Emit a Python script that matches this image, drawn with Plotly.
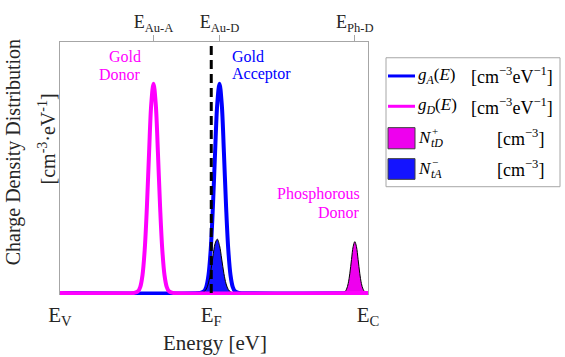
import plotly.graph_objects as go

# ---------------- data (energies in eV, densities normalised) ----------------
E_V = 0.0
E_C = 1.12
E_F = 0.55

bottom_tick_vals = [E_V, E_F, E_C]
bottom_tick_text = ["E<sub>V</sub>", "E<sub>F</sub>", "E<sub>C</sub>"]

top_tick_vals = [0.34, 0.58, 1.072]
top_tick_text = ["E<sub>Au-A</sub>", "E<sub>Au-D</sub>", "E<sub>Ph-D</sub>"]

# g_A(E): gold acceptor distribution
g_A_E = [0.0, 0.508, 0.516, 0.524, 0.532, 0.540, 0.548, 0.556, 0.564, 0.572, 0.580,
         0.588, 0.596, 0.604, 0.612, 0.620, 0.628, 0.636, 0.644, 0.652, 1.12]
g_A_val = [0.0, 0.0, 0.002, 0.008, 0.029, 0.085, 0.206, 0.411, 0.674, 0.906, 1.0,
           0.906, 0.674, 0.411, 0.206, 0.085, 0.029, 0.008, 0.002, 0.0, 0.0]

# g_D(E): gold donor distribution
g_D_E = [0.0, 0.268, 0.276, 0.284, 0.292, 0.300, 0.308, 0.316, 0.324, 0.332, 0.340,
         0.348, 0.356, 0.364, 0.372, 0.380, 0.388, 0.396, 0.404, 0.412, 1.12]
g_D_val = [0.0, 0.0, 0.002, 0.008, 0.029, 0.085, 0.206, 0.411, 0.674, 0.906, 1.0,
           0.906, 0.674, 0.411, 0.206, 0.085, 0.029, 0.008, 0.002, 0.0, 0.0]

# N_tA^- : ionised gold acceptors
N_tA_E = [0.508, 0.516, 0.524, 0.532, 0.540, 0.548, 0.556, 0.564, 0.572, 0.580,
          0.588, 0.596, 0.604, 0.612, 0.620, 0.628, 0.636]
N_tA_val = [0.0, 0.001, 0.006, 0.018, 0.048, 0.100, 0.173, 0.236, 0.257, 0.227,
            0.162, 0.093, 0.043, 0.016, 0.005, 0.001, 0.0]

# N_tD^+ : ionised phosphorous donors
N_tD_E = [1.024, 1.030, 1.036, 1.042, 1.048, 1.054, 1.060, 1.066, 1.072,
          1.078, 1.084, 1.090, 1.096, 1.102, 1.108, 1.114]
N_tD_val = [0.0, 0.0015, 0.006, 0.018, 0.045, 0.094, 0.160, 0.221, 0.245,
            0.221, 0.160, 0.094, 0.045, 0.018, 0.006, 0.0015]

# text labels
label_lines = [
    ("Gold", "#ff00ff"), ("Donor", "#ff00ff"),
    ("Gold", "#0000ff"), ("Acceptor", "#0000ff"),
    ("Phosphorous", "#ff00ff"), ("Donor", "#ff00ff"),
]
legend_names = [
    "<i>g<sub>A</sub></i>(<i>E</i>)",
    "<i>g<sub>D</sub></i>(<i>E</i>)",
    "<i>N</i>",
    "<i>N</i>",
]
legend_subs = ["", "", "tD", "tA"]
legend_sups = ["", "", "+", "−"]
legend_units = [
    "[cm<sup>−3</sup>eV<sup>−1</sup>]",
    "[cm<sup>−3</sup>eV<sup>−1</sup>]",
    "[cm<sup>−3</sup>]",
    "[cm<sup>−3</sup>]",
]

# ---------------- layout helpers ----------------
W, H = 565, 357
L, R, T, B = 60, 197, 38, 62
PW, PH = W - L - R, H - T - B


def px2x(px):
    return (px - L) / PW


def py2y(py):
    return (H - B - py) / PH


FONT = "Liberation Serif, Times New Roman, serif"
TXT = "#262626"
BLUE = "#0000ff"
MAG = "#ff00ff"
FRAME = "#a6a6a6"

fig = go.Figure()

fig.add_trace(go.Scatter(x=g_A_E, y=g_A_val, mode="lines",
                         line=dict(color=BLUE, width=4, shape="spline"),
                         showlegend=False, hoverinfo="skip"))
fig.add_trace(go.Scatter(x=N_tA_E, y=N_tA_val, mode="lines", fill="tozeroy",
                         fillcolor="#1414ff",
                         line=dict(color="black", width=1, shape="spline"),
                         showlegend=False, hoverinfo="skip"))
fig.add_trace(go.Scatter(x=N_tD_E, y=N_tD_val, mode="lines", fill="tozeroy",
                         fillcolor="#ee00ee",
                         line=dict(color="black", width=1, shape="spline"),
                         showlegend=False, hoverinfo="skip"))
fig.add_trace(go.Scatter(x=[E_F, E_F], y=[0, 1.2], mode="lines", xaxis="x2",
                         line=dict(color="black", width=3, dash="9px,5px"),
                         showlegend=False, hoverinfo="skip"))
fig.add_trace(go.Scatter(x=g_D_E, y=g_D_val, mode="lines",
                         line=dict(color=MAG, width=4, shape="spline"),
                         showlegend=False, hoverinfo="skip"))

annotations = []
# peak labels
label_pos = [
    (143, 52.7, "right"), (143, 71, "right"),
    (230, 52.7, "left"), (230, 71, "left"),
    (362, 192.7, "right"), (362, 211, "right"),
]
for (txt, col), (px, py, anc) in zip(label_lines, label_pos):
    annotations.append(dict(text=txt, x=px2x(px), y=py2y(py), xref="paper", yref="paper",
                            xanchor=anc, yanchor="middle", showarrow=False,
                            font=dict(family=FONT, size=16, color=col)))

# axis titles
annotations.append(dict(text="Charge Density Distribution", textangle=-90,
                        x=px2x(13), y=py2y(150), xref="paper", yref="paper",
                        xanchor="center", yanchor="middle", showarrow=False,
                        font=dict(family=FONT, size=20, color=TXT)))
annotations.append(dict(text="[cm<sup>-3</sup>·eV<sup>-1</sup>]", textangle=-90,
                        x=px2x(47), y=py2y(137), xref="paper", yref="paper",
                        xanchor="center", yanchor="middle", showarrow=False,
                        font=dict(family=FONT, size=20, color=TXT)))
annotations.append(dict(text="Energy [eV]", x=px2x(215), y=py2y(344),
                        xref="paper", yref="paper", xanchor="center", yanchor="middle",
                        showarrow=False, font=dict(family=FONT, size=21, color=TXT)))

# manual legend
shapes = []
shapes.append(dict(type="rect", xref="paper", yref="paper",
                   x0=px2x(386), x1=px2x(560), y0=py2y(185), y1=py2y(54),
                   line=dict(color=FRAME, width=1), fillcolor="white", layer="below"))
row_y = [72.5, 103.3, 135.5, 167]
shapes.append(dict(type="line", xref="paper", yref="paper",
                   x0=px2x(388), x1=px2x(415), y0=py2y(row_y[0]), y1=py2y(row_y[0]),
                   line=dict(color=BLUE, width=3)))
shapes.append(dict(type="line", xref="paper", yref="paper",
                   x0=px2x(388), x1=px2x(415), y0=py2y(row_y[1]), y1=py2y(row_y[1]),
                   line=dict(color=MAG, width=3)))
shapes.append(dict(type="rect", xref="paper", yref="paper",
                   x0=px2x(388), x1=px2x(415), y0=py2y(146.5), y1=py2y(125),
                   line=dict(color="#404040", width=1), fillcolor="#ee00ee"))
shapes.append(dict(type="rect", xref="paper", yref="paper",
                   x0=px2x(388), x1=px2x(415), y0=py2y(177.5), y1=py2y(156.5),
                   line=dict(color="#404040", width=1), fillcolor="#1414ff"))

unit_x = [469, 469, 495, 495]
for i in range(4):
    annotations.append(dict(text=legend_names[i], x=px2x(416), y=py2y(row_y[i]),
                            xref="paper", yref="paper", xanchor="left", yanchor="middle",
                            showarrow=False, font=dict(family=FONT, size=17, color="black")))
    annotations.append(dict(text=legend_units[i], x=px2x(unit_x[i]), y=py2y(row_y[i]),
                            xref="paper", yref="paper", xanchor="left", yanchor="middle",
                            showarrow=False, font=dict(family=FONT, size=18, color="black")))
    if legend_subs[i]:
        annotations.append(dict(text="<i>" + legend_subs[i] + "</i>", x=px2x(429),
                                y=py2y(row_y[i] + 5.5),
                                xref="paper", yref="paper", xanchor="left", yanchor="middle",
                                showarrow=False, font=dict(family=FONT, size=12, color="black")))
        annotations.append(dict(text=legend_sups[i], x=px2x(430), y=py2y(row_y[i] - 7.5),
                                xref="paper", yref="paper", xanchor="left", yanchor="middle",
                                showarrow=False, font=dict(family=FONT, size=11, color="black")))

fig.update_layout(
    width=W, height=H,
    margin=dict(l=L, r=R, t=T, b=B),
    paper_bgcolor="white", plot_bgcolor="white",
    showlegend=False,
    font=dict(family=FONT, color=TXT),
    xaxis=dict(range=[E_V, E_C], tickvals=bottom_tick_vals, ticktext=bottom_tick_text,
               ticks="", showline=False, showgrid=False, zeroline=False,
               tickfont=dict(family=FONT, size=21, color=TXT), ticklabelstandoff=5),
    xaxis2=dict(range=[E_V, E_C], overlaying="x", side="top", matches="x",
                tickvals=top_tick_vals, ticktext=top_tick_text,
                ticks="outside", ticklen=6, tickcolor=FRAME, tickwidth=1,
                showline=True, linecolor=FRAME, linewidth=1,
                showgrid=False, zeroline=False,
                tickfont=dict(family=FONT, size=18, color=TXT)),
    yaxis=dict(range=[-0.01, 1.2], showticklabels=False, ticks="", showgrid=False,
               zeroline=False, showline=True, mirror=True, linecolor=FRAME, linewidth=1),
    annotations=annotations,
    shapes=shapes,
)

fig.write_html("out.html", config={"displayModeBar": False},
               post_script="document.body.style.margin='0px';document.body.style.overflow='hidden';")
